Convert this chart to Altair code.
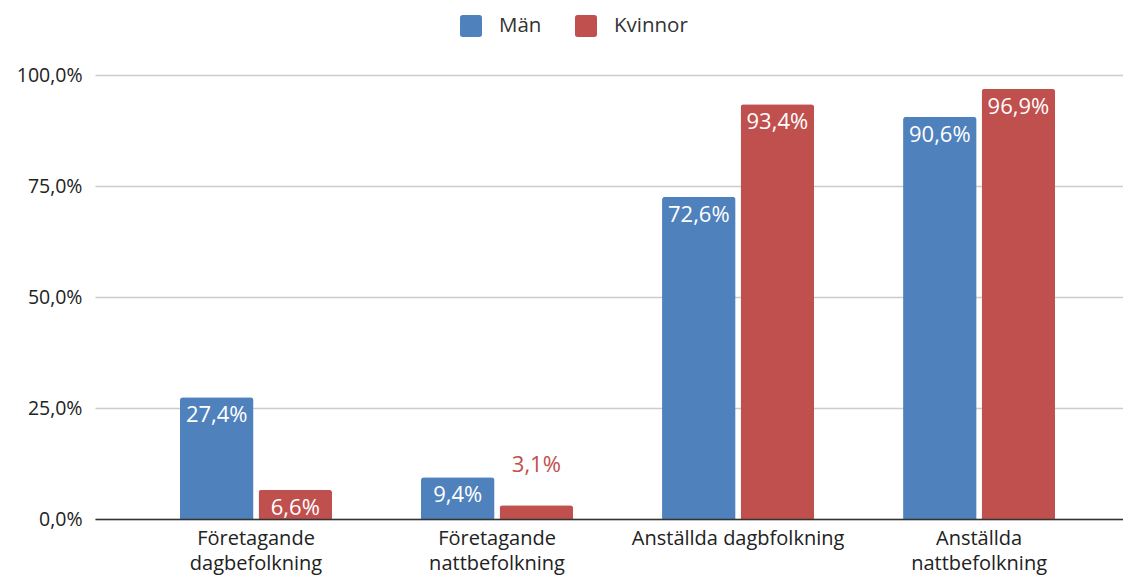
import altair as alt
import pandas as pd

categories = [
    "Företagande dagbefolkning",
    "Företagande nattbefolkning",
    "Anställda dagbfolkning",
    "Anställda nattbefolkning",
]
series = ["Män", "Kvinnor"]
man_values = [27.4, 9.4, 72.6, 90.6]
kvinnor_values = [6.6, 3.1, 93.4, 96.9]
colors = ["#4f81bd", "#c0504d"]
y_ticks = [0, 0.25, 0.5, 0.75, 1.0]

rows = []
for c, m, k in zip(categories, man_values, kvinnor_values):
    rows.append({"kategori": c, "kon": "Män", "andel": m / 100})
    rows.append({"kategori": c, "kon": "Kvinnor", "andel": k / 100})
df = pd.DataFrame(rows)
df["etikett"] = df["andel"].map(lambda v: f"{v * 100:.1f}%".replace(".", ","))
df["inne"] = df["andel"] > 0.05

FONT = "Open Sans"
rounded_square = (
    "M -0.75 -1 L 0.75 -1 Q 1 -1 1 -0.75 L 1 0.75 Q 1 1 0.75 1 "
    "L -0.75 1 Q -1 1 -1 0.75 L -1 -0.75 Q -1 -1 -0.75 -1 Z"
)

color_scale = alt.Scale(domain=series, range=colors)

base = alt.Chart(df).encode(
    x=alt.X(
        "kategori:N",
        sort=categories,
        scale=alt.Scale(paddingInner=0.369, paddingOuter=0.317, align=0.556),
        axis=alt.Axis(
            title=None,
            labelAngle=0,
            labelExpr="datum.label == 'Anställda dagbfolkning' ? datum.label : split(datum.label, ' ')",
            labelFontSize=20,
            labelFont=FONT,
            labelColor="#222222",
            labelPadding=9,
            labelLineHeight=25,
            labelLimit=400,
            ticks=False,
            domainColor="#333333",
            domainWidth=1.5,
            zindex=1,
        ),
    ),
    xOffset=alt.XOffset("kon:N", sort=series, scale=alt.Scale(paddingInner=0.064)),
    y=alt.Y(
        "andel:Q",
        scale=alt.Scale(domain=[0, 1], nice=False),
        axis=alt.Axis(
            title=None,
            values=y_ticks,
            labelExpr="replace(format(datum.value, '.1%'), '.', ',')",
            domain=False,
            ticks=False,
            labelFontSize=19.5,
            labelFont=FONT,
            labelColor="#222222",
            labelPadding=13,
            gridColor="#cccccc",
            gridWidth=1.5,
        ),
    ),
)

bars = base.mark_bar(cornerRadiusTopLeft=3, cornerRadiusTopRight=3).encode(
    color=alt.Color(
        "kon:N",
        sort=series,
        scale=color_scale,
        legend=alt.Legend(
            title=None,
            orient="none",
            legendX=365,
            legendY=-60,
            direction="horizontal",
            symbolType=rounded_square,
            symbolSize=484,
            symbolStrokeWidth=0,
            labelFontSize=20.5,
            labelFont=FONT,
            labelColor="#333333",
            labelOffset=17,
            columnPadding=33,
        ),
    )
)

labels_in = (
    base.transform_filter("datum.inne")
    .mark_text(baseline="top", dy=8, fontSize=22, font=FONT, color="white")
    .encode(text="etikett:N")
)

labels_out = (
    base.transform_filter("!datum.inne")
    .mark_text(baseline="bottom", dy=-28, fontSize=22, font=FONT)
    .encode(
        text="etikett:N",
        color=alt.Color("kon:N", sort=series, scale=color_scale, legend=None),
    )
)

chart = (
    alt.layer(bars, labels_in, labels_out)
    .properties(
        width=1028,
        height=444,
        autosize=alt.AutoSizeParams(type="none"),
        padding={"left": 87, "top": 67, "right": 0, "bottom": 58},
        background="white",
    )
    .configure_view(stroke=None)
)

chart.save("out.html", embed_options={"renderer": "svg", "actions": False})
